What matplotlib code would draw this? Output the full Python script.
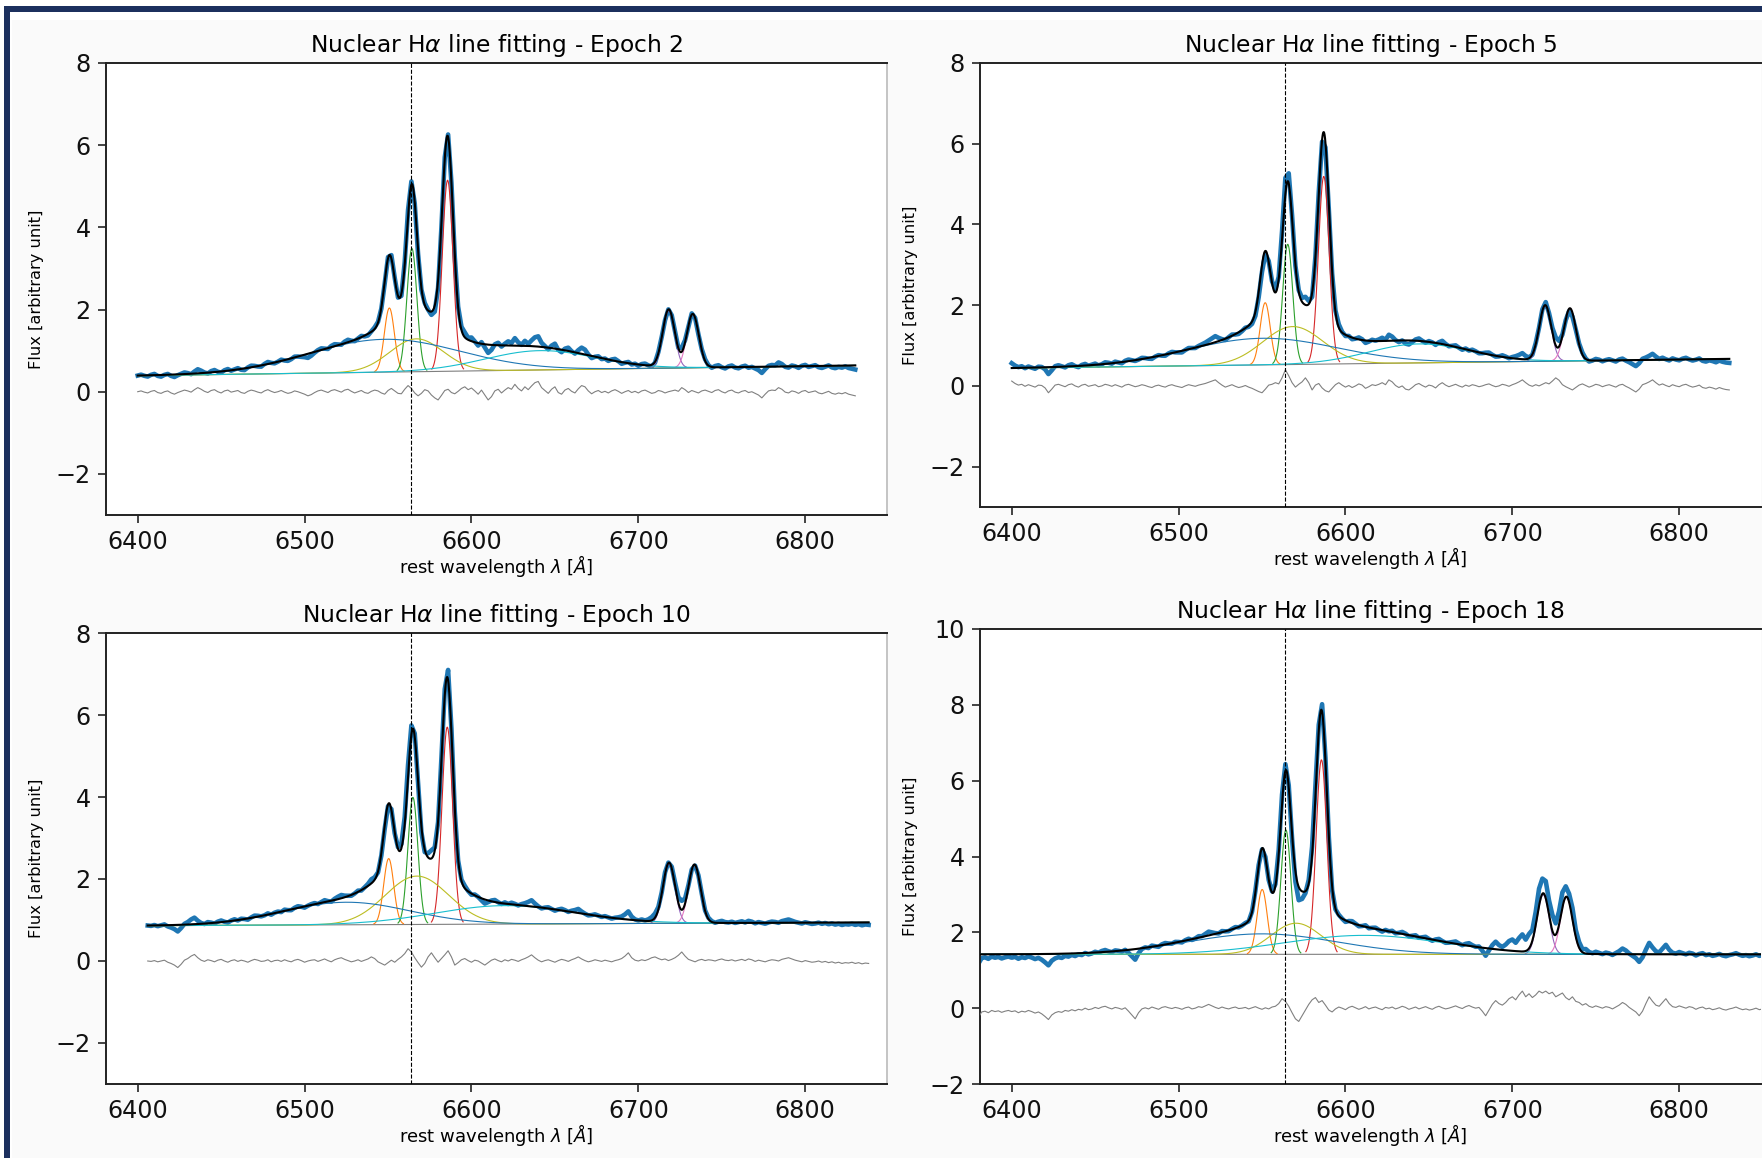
import numpy as np
import matplotlib
matplotlib.use('Agg')
import matplotlib.pyplot as plt
from matplotlib.patches import Rectangle

# epochs shown in the four panels
epochs = [2, 5, 10, 18]

# wavelength range covered by each spectrum (2 A sampling)
wave_start = [6400, 6400, 6406, 6380]
wave_end = [6830, 6830, 6838, 6850]

# linear continuum level at 6400 A and 6830 A
cont_left = [0.39, 0.44, 0.86, 1.42]
cont_right = [0.64, 0.67, 0.94, 1.42]

# gaussian components, same order in every epoch:
# [NII]6548, Ha narrow, [NII]6583, [SII]6716, [SII]6731, Ha broad, very broad blue, red shoulder
comp_colors = ['C1', 'C2', 'C3', 'C4', 'C6', 'C8', 'C0', 'C9']
n_narrow = 5

cen_e2 = [6550.8, 6564.3, 6585.7, 6718.2, 6732.6, 6567.0, 6548.0, 6641.0]
amp_e2 = [1.56, 3.00, 4.65, 1.40, 1.30, 0.80, 0.80, 0.47]
wid_e2 = [3.0, 3.0, 3.2, 3.6, 3.6, 16.0, 45.0, 33.0]

cen_e5 = [6551.9, 6565.4, 6587.0, 6719.7, 6734.5, 6568.4, 6550.0, 6644.0]
amp_e5 = [1.54, 2.98, 4.65, 1.37, 1.30, 0.94, 0.66, 0.47]
wid_e5 = [3.0, 3.0, 3.2, 3.6, 3.6, 18.0, 45.0, 30.0]

cen_e10 = [6550.4, 6564.9, 6585.5, 6718.4, 6733.6, 6567.3, 6525.0, 6620.0]
amp_e10 = [1.61, 3.10, 4.81, 1.45, 1.42, 1.18, 0.55, 0.45]
wid_e10 = [3.0, 3.0, 3.2, 3.6, 3.6, 19.0, 38.0, 42.0]

cen_e18 = [6550.1, 6564.3, 6585.6, 6718.5, 6732.4, 6570.4, 6550.0, 6611.0]
amp_e18 = [1.71, 3.28, 5.13, 1.57, 1.50, 0.82, 0.54, 0.50]
wid_e18 = [3.0, 3.0, 3.2, 3.6, 3.6, 15.0, 45.0, 48.0]

# fit residuals (data - model), in 0.01 units, 2 A steps
resid_e2 = np.array([
    0, 2, -1, -3, 1, 3, -2, -4, 0, 2,
    -3, -6, -2, 1, 4, 2, -1, 5, 10, 6,
    1, -2, 3, 5, 0, -3, 2, 4, -1, 1,
    3, -2, -4, 1, 4, 2, -1, -3, 2, 5,
    1, -2, 0, 3, -1, -4, -2, 2, 0, -3,
    -6, -10, -7, -2, 2, 4, 1, -2, 3, 5,
    2, -1, 4, 6, 1, -3, 0, 3, -2, -4,
    1, 4, 2, -3, -6, 3, 8, 2, -4, -5,
    6, 15, 8, -3, -10, -4, 5, 2, -8, -15,
    -20, -9, 3, 6, -2, -5, 1, 8, 12, 5,
    9, 2, -6, 4, -8, -20, -12, 2, 6, -3,
    4, 10, 6, 18, 8, 2, 12, 5, 14, 22,
    25, 10, 3, -4, 6, 12, -2, -6, 4, 8,
    1, -3, 7, 15, 12, 2, -5, 0, 3, -2,
    1, -3, 2, 5, 1, -4, 0, 3, -2, 1,
    -3, 2, 4, 0, -4, -2, 3, 1, -3, 0,
    2, 4, 1, 10, 5, -2, 3, 0, -3, 2,
    4, 1, -2, 3, 5, 0, -3, 2, 4, -1,
    -3, 1, 3, -2, 0, -4, -8, -15, -6, 2,
    4, 3, 10, 6, -1, -3, 2, 0, -4, 1,
    3, -2, 0, 2, -3, -5, -2, 1, -4, -6,
    -3, -5, -2, -6, -8, -10]) / 100

resid_e5 = np.array([
    12, 6, 2, 4, -1, 3, 0, -3, 2, 1,
    -5, -17, -8, 2, 4, 1, -2, 3, 5, 0,
    -3, 2, 4, -1, 1, 3, -2, 0, 4, 2,
    -1, 3, 0, -3, 2, 4, 1, -2, 0, 3,
    1, -2, -4, 0, 2, -1, -3, 1, 3, 0,
    -2, -4, 0, 3, 1, -1, 2, 4, 6, 9,
    12, 15, 8, 2, -3, 0, 3, -1, -4, -2,
    1, -3, -6, -10, -14, -17, -8, 2, 4, 8,
    5, 20, 40, 25, 8, -3, 4, 10, 20, 8,
    -10, 2, 6, -5, -12, -15, -6, 3, 8, 2,
    -3, 1, -4, 0, 5, 2, -6, -2, 3, 1,
    4, 8, 3, 15, 10, 1, -4, 0, -8, -10,
    -4, 3, 6, 1, -3, 2, 0, -5, 3, 8,
    2, -2, 1, 4, 0, -3, 2, -1, 3, 1,
    -2, 0, 3, 5, 1, -2, 0, 4, 2, -1,
    3, 6, 10, 15, 8, 2, -1, 3, 0, 4,
    8, 5, 12, 20, 14, 3, -2, -6, -10, -4,
    2, 5, 1, -3, 0, 4, 2, -2, 1, 3,
    0, -3, 2, 4, -1, -5, -10, -15, -8, 3,
    6, 10, 15, 8, 2, 5, 1, -2, 3, 0,
    -2, 2, 4, 0, -3, -1, 2, -4, -6, -3,
    -5, -8, -4, -7, -9, -10]) / 100

resid_e10 = np.array([
    0, -1, 1, -2, 0, 2, -3, -6, -10, -16,
    -8, 2, 6, 12, 16, 8, 2, -1, 3, 1,
    -2, 2, 4, 0, -3, 1, 3, -1, 2, 0,
    -3, 1, 4, 2, -1, 0, 3, -2, 1, 2,
    -1, 3, 0, -2, 2, 4, 1, -3, 0, 2,
    3, -1, 2, 5, 1, -2, 3, 6, 8, 4,
    1, -2, 0, 3, -1, 2, 5, 10, 6, -2,
    -6, -10, -4, 2, -3, 4, 10, 18, 30, 22,
    8, -4, -15, -6, 10, 20, 8, -3, 6, 15,
    25, 10, -10, -4, 3, 6, 1, -3, 2, 0,
    -5, -10, -4, 2, 5, 1, -2, 3, 0, 4,
    2, -1, 3, 6, 10, 15, 8, 2, -2, 1,
    3, 0, -3, 1, 4, 2, -1, 3, 6, 10,
    5, 1, -2, 0, 3, 1, -1, 2, 0, -2,
    1, 3, 6, 12, 20, 8, 2, 0, 3, 1,
    4, 8, 10, 6, 3, 5, 1, 4, 8, 14,
    22, 12, 4, 1, -2, 2, 4, 1, 3, 2,
    0, 3, 5, 2, 1, 3, 0, 2, 4, 1,
    5, 3, -1, 2, 0, -2, 1, 3, 2, 0,
    4, 6, 8, 5, 2, 0, -2, 1, -1, -3,
    -2, 0, -3, -1, -4, -2, -5, -3, -6, -4,
    -5, -3, -6, -4, -7, -5, -6]) / 100

resid_e18 = np.array([
    -25, -10, -8, -12, -6, -9, -7, -11, -8, -6,
    -9, -7, -12, -8, -10, -6, -9, -13, -10, -15,
    -22, -30, -18, -12, -9, -11, -6, -8, -4, -7,
    -3, -5, 0, -4, -2, 2, -1, 3, 5, 1,
    -2, 2, 0, -3, 1, -8, -18, -28, -12, -2,
    1, -2, 3, 0, -3, 2, 4, 1, -1, 2,
    0, -3, 1, 3, -2, 0, 4, 2, 6, 10,
    6, 2, -1, 3, 0, -2, 1, 3, -1, 0,
    2, -2, 1, 4, 0, -3, 1, -2, 3, 5,
    12, 25, 18, 5, -12, -28, -35, -20, -5, 10,
    22, 28, 15, 20, 8, -5, -10, -2, 3, 0,
    -4, 2, 5, 1, -3, 0, 4, -2, 1, 3,
    -1, -4, 2, 0, 3, -2, 1, 5, 2, -3,
    0, 3, -2, 1, 4, 0, -3, 2, 5, 1,
    -2, 0, 3, 6, 2, -1, 4, 7, 3, 0,
    2, -8, -20, -5, 10, 20, 12, 8, 15, 25,
    30, 22, 35, 45, 30, 38, 28, 35, 45, 40,
    45, 38, 42, 30, 35, 40, 28, 22, 30, 18,
    15, 8, 12, 5, 2, 6, 3, 0, 4, 2,
    -2, 3, 8, 15, 10, 2, -4, -10, -20, -8,
    12, 30, 18, 8, 5, 15, 25, 12, 4, 2,
    6, 3, 0, 4, 2, -3, 1, 3, -2, 0,
    -4, -2, 1, -3, -5, -2, 0, 3, -1, -4,
    -2, -5, -3, 0, -4, -2]) / 100

centers = [cen_e2, cen_e5, cen_e10, cen_e18]
amps = [amp_e2, amp_e5, amp_e10, amp_e18]
widths = [wid_e2, wid_e5, wid_e10, wid_e18]
resids = [resid_e2, resid_e5, resid_e10, resid_e18]

ylims = [(-3, 8), (-3, 8), (-3, 8), (-2, 10)]
HALPHA = 6563.5

# panel boxes in pixels: left, top, right, bottom
W, H = 1762, 1158
boxes = [(106, 63, 887, 515), (980, 63, 1761, 507),
         (106, 633, 887, 1084), (980, 629, 1761, 1084)]


def continuum(w, i):
    return cont_left[i] + (cont_right[i] - cont_left[i]) * (w - 6400) / 430.0


def gauss(w, c, a, s):
    return a * np.exp(-0.5 * ((w - c) / s) ** 2)


def model(w, i):
    total = continuum(w, i)
    for c, a, s in zip(centers[i], amps[i], widths[i]):
        total = total + gauss(w, c, a, s)
    return total


fig = plt.figure(figsize=(W / 100, H / 100), dpi=100)
fig.patch.set_facecolor('#fafafa')

# white margin and navy frame of the screenshot
fig.add_artist(Rectangle((0, 1 - 20 / H), 1, 20 / H, transform=fig.transFigure,
                         facecolor='white', edgecolor='none', zorder=-10))
fig.add_artist(Rectangle((0, 0), 12 / W, 1, transform=fig.transFigure,
                         facecolor='white', edgecolor='none', zorder=-10))
fig.add_artist(Rectangle((4 / W, 1 - 12 / H), 1, 6 / H, transform=fig.transFigure,
                         facecolor='#1c305e', edgecolor='none', zorder=-9))
fig.add_artist(Rectangle((4 / W, 0), 6 / W, 1 - 6 / H, transform=fig.transFigure,
                         facecolor='#1c305e', edgecolor='none', zorder=-9))

for i, ep in enumerate(epochs):
    l, t, r, b = boxes[i]
    ax = fig.add_axes([l / W, 1 - b / H, (r - l) / W, (b - t) / H])
    ax.set_facecolor('white')

    w = np.arange(wave_start[i], wave_end[i] + 1, 2.0)
    wf = np.arange(wave_start[i], wave_end[i] + 0.25, 0.25)
    flux = model(w, i) + resids[i]

    # observed spectrum
    ax.plot(w, flux, color='C0', lw=3.3, zorder=2)
    # continuum, then the single components (narrow ones only near their centre)
    ax.plot(wf, continuum(wf, i), color='C7', lw=0.8, zorder=3)
    for k, (c, a, s, col) in enumerate(zip(centers[i], amps[i], widths[i], comp_colors)):
        if k < n_narrow:
            wk = wf[np.abs(wf - c) <= 3 * s]
        else:
            wk = wf
        ax.plot(wk, continuum(wk, i) + gauss(wk, c, a, s), color=col, lw=0.8, zorder=3)
    # total model
    ax.plot(wf, model(wf, i), color='black', lw=1.5, zorder=4)
    # residuals
    ax.plot(w, resids[i], color='gray', lw=0.8, zorder=3)
    ax.axvline(HALPHA, color='black', ls='--', lw=0.8, zorder=5)

    ax.set_xlim(6381, 6849)
    ax.set_ylim(*ylims[i])
    ax.set_xticks([6400, 6500, 6600, 6700, 6800])
    ax.set_yticks(np.arange(ylims[i][0] + (ylims[i][0] % 2), ylims[i][1] + 1, 2))
    ax.tick_params(labelsize=17.2, length=6, width=1.1, pad=5, colors='#111111')

    for side in ['left', 'bottom', 'top']:
        ax.spines[side].set_linewidth(1.4)
        ax.spines[side].set_color('#222222')
    if i % 2 == 0:
        ax.spines['right'].set_color('#c4c4c4')
        ax.spines['right'].set_linewidth(1.4)
    else:
        ax.spines['right'].set_visible(False)

    ax.set_title(r'Nuclear H$\alpha$ line fitting - Epoch %d' % ep, fontsize=16.8, pad=8)
    ax.set_xlabel(r'rest wavelength $\lambda$ $[\AA]$', fontsize=13)
    ax.set_ylabel('Flux [arbitrary unit]', fontsize=11.7)
    ax.xaxis.set_label_coords(0.5, -38 / (b - t))
    ax.yaxis.set_label_coords(-62 / (r - l), 0.5)

fig.savefig('out.png', dpi=100, facecolor=fig.get_facecolor())
